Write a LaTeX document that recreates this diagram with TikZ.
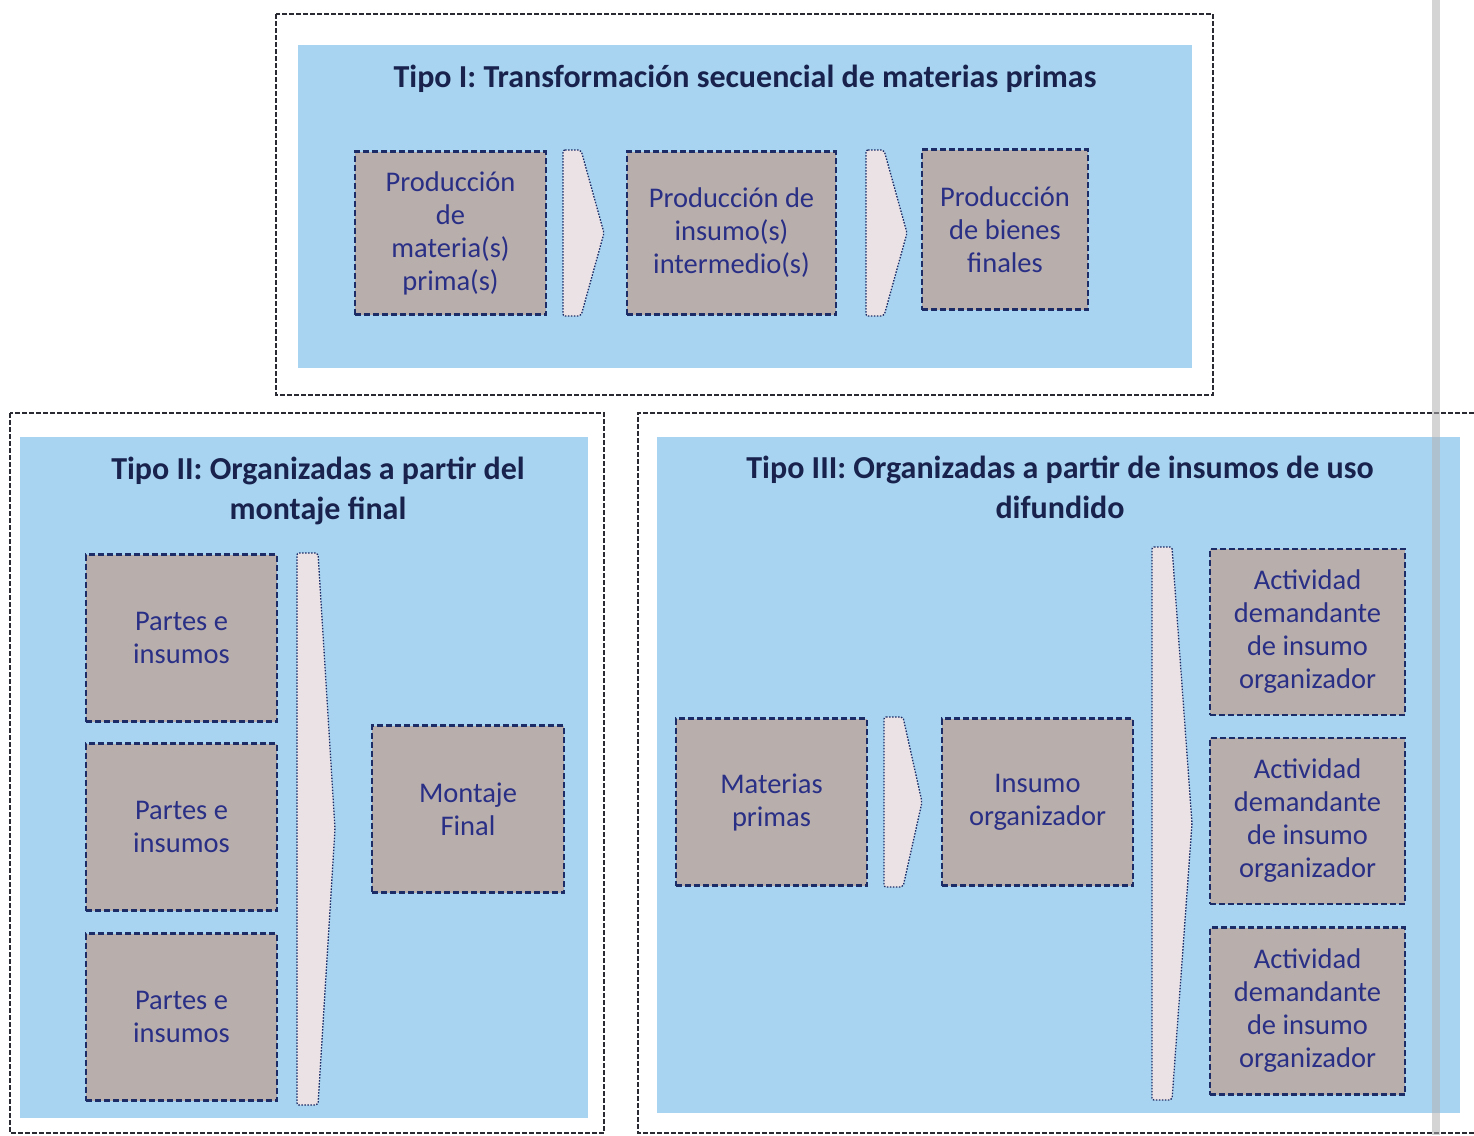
\documentclass[tikz,border=0pt]{standalone}
\usepackage{fontspec}
\setmainfont{Carlito}
\definecolor{panelblue}{HTML}{A8D4F1}
\definecolor{boxfill}{HTML}{B8AEAC}
\definecolor{navy}{HTML}{1C2C66}
\definecolor{titlecol}{HTML}{18224C}
\definecolor{textcol}{HTML}{2A2F86}
\definecolor{chevfill}{HTML}{EAE2E5}
\definecolor{framecol}{HTML}{2A2A33}
\tikzset{
  frame/.style={draw=framecol, line width=1.4pt, dash pattern=on 5pt off 2pt},
  panel/.style={fill=panelblue, draw=none},
  proc/.style={draw=navy, fill=boxfill, line width=2.6pt, dash pattern=on 6pt off 3pt,
    text=textcol, align=center, inner sep=0pt,
    font=\fontsize{28.5}{33}\selectfont},
  chev/.style={draw=navy, fill=chevfill, line width=1.3pt, dash pattern=on 1.5pt off 1.5pt,
    rounded corners=2pt},
  ttl/.style={text=titlecol, align=center, inner sep=0pt,
    font=\bfseries\fontsize{32}{40}\selectfont}
}
% chevron: left x, top y, tip x, shoulder x, bottom y
\newcommand\chevron[5]{\draw[chev] (#1,#2) -- (#4,#2) -- (#3,{(#2+#5)/2}) -- (#4,#5) -- (#1,#5) -- cycle;}
\begin{document}
\begin{tikzpicture}[x=1pt,y=-1pt]
\useasboundingbox (0,0) rectangle (1474,1135);
\fill[white] (0,0) rectangle (1474,1135);

% ---- Tipo I ----
\fill[panel] (298,45) rectangle (1192,368);
\draw[frame] (276,14) rectangle (1213,395);
\node[ttl] (t1) at (745,79) {Tipo I: Transformación secuencial de materias primas};
\node[proc, minimum width=191pt, minimum height=163pt] (a1) at (450.5,233) {Producción\\de\\materia(s)\\prima(s)};
\node[proc, minimum width=209pt, minimum height=163pt] (a2) at (731.5,233) {Producción de\\insumo(s)\\intermedio(s)};
\node[proc, minimum width=166pt, minimum height=160pt] (a3) at (1005,229.5) {Producción\\de bienes\\finales};
\chevron{563}{150}{604}{581}{316}
\chevron{866}{150}{907}{884}{316}

% ---- Tipo II ----
\fill[panel] (20,437) rectangle (588,1118);
\draw[frame] (10,413) rectangle (604,1133);
\node[ttl] (t2) at (318,491) {Tipo II: Organizadas a partir del\\montaje final};
\node[proc, minimum width=191pt, minimum height=167pt] (b1) at (181.5,638) {Partes e\\insumos};
\node[proc, minimum width=191pt, minimum height=167pt] (b2) at (181.5,827) {Partes e\\insumos};
\node[proc, minimum width=191pt, minimum height=167pt] (b3) at (181.5,1017) {Partes e\\insumos};
\node[proc, minimum width=192pt, minimum height=167pt] (b4) at (468,809) {Montaje\\Final};
\chevron{297}{553}{335}{318}{1105}

% ---- Tipo III ----
\fill[panel] (657,437) rectangle (1460,1113);
\draw[frame] (1474,413) -- (638,413) -- (638,1133) -- (1474,1133);
\node[ttl] (t3) at (1060,487) {Tipo III: Organizadas a partir de insumos de uso\\difundido};
\node[proc, minimum width=191pt, minimum height=167pt] (c1) at (771.5,802) {Materias\\primas};
\node[proc, minimum width=191pt, minimum height=167pt] (c2) at (1037.5,802) {Insumo\\organizador};
\chevron{884}{717}{922}{903}{887}
\chevron{1152}{547}{1192}{1172}{1100}
\node[proc, minimum width=195pt, minimum height=166pt] (d1) at (1307.5,632) {Actividad\\demandante\\de insumo\\organizador};
\node[proc, minimum width=195pt, minimum height=166pt] (d2) at (1307.5,821) {Actividad\\demandante\\de insumo\\organizador};
\node[proc, minimum width=195pt, minimum height=167pt] (d3) at (1307.5,1011) {Actividad\\demandante\\de insumo\\organizador};

% page fold shadow along the right edge
\fill[gray!60, opacity=0.55] (1432,0) rectangle (1440,1135);
\end{tikzpicture}
\end{document}
